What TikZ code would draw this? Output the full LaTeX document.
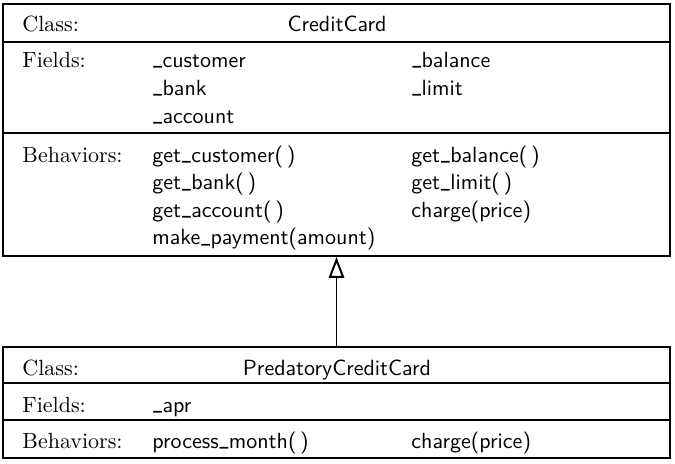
\documentclass[tikz,border=0pt]{standalone}
\usepackage{graphicx}
\usetikzlibrary{fit,arrows.meta}
\newcommand{\usc}{\kern.04em\raisebox{.11em}{\scalebox{0.6}[1]{\_}}\kern.02em}
\begin{document}
\begin{tikzpicture}[x=0.4545pt,y=-0.4545pt,
  classbox/.style={draw,line width=0.9pt,inner sep=0pt},
  divider/.style={line width=0.9pt},
  lbl/.style={anchor=base west,inner sep=0pt,font=\rmfamily},
  itm/.style={anchor=base west,inner sep=0pt,font=\sffamily},
  ttl/.style={anchor=base,inner sep=0pt,font=\sffamily},
  inherit/.style={line width=0.9pt,-{Triangle[open,length=9.5pt,width=7pt,line width=0.9pt]}}]
\useasboundingbox (0,0) rectangle (675,463);
% CreditCard box
\node[classbox,fit={(3,4) (670,256)}] (cc) {};
\draw[divider] (3,42) -- (670,42);
\draw[divider] (3,133) -- (670,133);
\node[lbl] (ccclass) at (22,31) {Class:};
\node[ttl] (ccname) at (337,31) {CreditCard};
\node[lbl] (ccfields) at (22,67) {Fields:};
\node[itm] (f1) at (152,67) {\usc customer};
\node[itm] (f2) at (152,95) {\usc bank};
\node[itm] (f3) at (152,123) {\usc account};
\node[itm] (f4) at (411,67) {\usc balance};
\node[itm] (f5) at (411,95) {\usc limit};
\node[lbl] (ccbeh) at (22,162) {Behaviors:};
\node[itm] (b1) at (152,162) {get\usc customer(\,)};
\node[itm] (b2) at (152,189.5) {get\usc bank(\,)};
\node[itm] (b3) at (152,217) {get\usc account(\,)};
\node[itm] (b4) at (152,244.5) {make\usc payment(amount)};
\node[itm] (b5) at (411,162) {get\usc balance(\,)};
\node[itm] (b6) at (411,189.5) {get\usc limit(\,)};
\node[itm] (b7) at (411,217) {charge(price)};
% PredatoryCreditCard box
\node[classbox,fit={(3,346.5) (670,458)}] (pcc) {};
\draw[divider] (3,383) -- (670,383);
\draw[divider] (3,420) -- (670,420);
\node[lbl] (pclass) at (22,375) {Class:};
\node[ttl] (pname) at (337,375) {PredatoryCreditCard};
\node[lbl] (pfields) at (22,412) {Fields:};
\node[itm] (pf1) at (152,412) {\usc apr};
\node[lbl] (pbeh) at (22,448) {Behaviors:};
\node[itm] (pb1) at (152,448) {process\usc month(\,)};
\node[itm] (pb2) at (411,448) {charge(price)};
% inheritance
\draw[inherit] (pcc.north) -- (cc.south);
\end{tikzpicture}
\end{document}
